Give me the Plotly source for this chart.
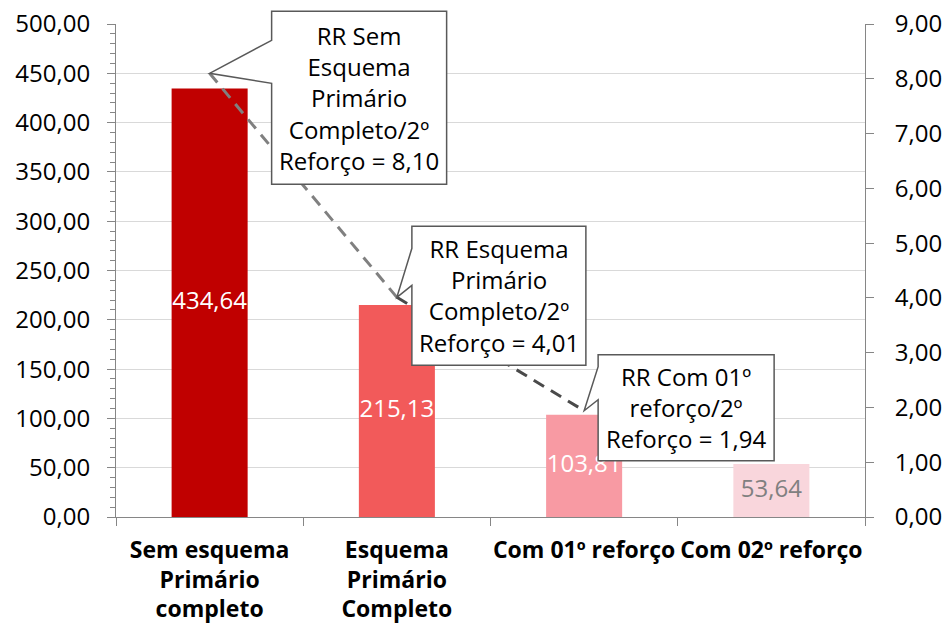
import plotly.graph_objects as go

categories = ["Sem esquema<br>Primário<br>completo", "Esquema<br>Primário<br>Completo",
              "Com 01º reforço", "Com 02º reforço"]
incidence = [434.64, 215.13, 103.81, 53.64]
bar_colors = ["#C00000", "#F25A5A", "#F89AA3", "#F9D6DC"]
label_colors = ["#FFFFFF", "#FFFFFF", "#FFFFFF", "#808080"]
rr_values = [8.10, 4.01, 1.94]
rr_texts = ["RR Sem<br>Esquema<br>Primário<br>Completo/2º<br>Reforço = 8,10",
            "RR Esquema<br>Primário<br>Completo/2º<br>Reforço = 4,01",
            "RR Com 01º<br>reforço/2º<br>Reforço = 1,94"]
Y1_RANGE = [0, 500]
Y2_RANGE = [0, 9]

FONT = "Open Sans"
fig = go.Figure()

fig.add_trace(go.Bar(x=categories, y=incidence, marker=dict(color=bar_colors, line=dict(width=0)),
                     hoverinfo="skip", showlegend=False))
fig.add_trace(go.Scatter(x=categories, y=[v / 2 for v in incidence], mode="text",
                         text=[f"{v:.2f}".replace(".", ",") for v in incidence],
                         textfont=dict(family=FONT, size=24, color=label_colors),
                         textposition="middle center", hoverinfo="skip", showlegend=False))

seg_colors = ["#808080", "#4a4a4a"]
for i in range(len(rr_values) - 1):
    fig.add_trace(go.Scatter(x=categories[i:i + 2], y=rr_values[i:i + 2], yaxis="y2", mode="lines",
                             line=dict(color=seg_colors[i], width=3, dash="12px,8px"),
                             hoverinfo="skip", showlegend=False))

# callout geometry (pixels relative to the data point): left, right, top, bottom, wedge top, wedge bottom
callouts = [(62, 237, 62, -111, 33, -10),
            (15, 189, 71, -68, 49, 12),
            (14, 190, 56, -50, 44, 11)]
shapes = []
annotations = []
n = len(categories)
for i, (l, r, t, b, wt, wb) in enumerate(callouts):
    path = f"M 0,0 L {l},{wt} L {l},{t} L {r},{t} L {r},{b} L {l},{b} L {l},{wb} Z"
    shapes.append(dict(type="path", xref="x domain", yref="y2 domain", xsizemode="pixel", ysizemode="pixel",
                       xanchor=(i + 0.5) / n, yanchor=(rr_values[i] - Y2_RANGE[0]) / (Y2_RANGE[1] - Y2_RANGE[0]),
                       path=path, fillcolor="white", line=dict(color="#595959", width=1.5), layer="above"))
    annotations.append(dict(x=categories[i], y=rr_values[i], xref="x", yref="y2", text=rr_texts[i],
                            showarrow=False, xshift=(l + r) / 2, yshift=(t + b) / 2,
                            font=dict(family=FONT, size=24, color="#000000"), align="center"))

fig.update_layout(
    width=943, height=626,
    margin=dict(l=116, r=78, t=24, b=109, autoexpand=False),
    paper_bgcolor="white", plot_bgcolor="white",
    separators=",.",
    bargap=0.594,
    shapes=shapes, annotations=annotations,
    xaxis=dict(showline=True, linecolor="#868686", linewidth=1, ticks="outside", tickson="boundaries",
               ticklen=8, tickcolor="#868686", showgrid=False, automargin=False, ticklabelstandoff=12,
               tickangle=0, ticklabeloverflow="allow",
               tickfont=dict(family=FONT, size=23, color="#000000", weight="bold")),
    yaxis=dict(range=Y1_RANGE, dtick=50, tickformat=".2f", showline=True, linecolor="#868686",
               ticks="outside", ticklen=8, tickcolor="#868686", gridcolor="#D9D9D9", zeroline=False,
               automargin=False, ticklabelstandoff=12, ticklabeloverflow="allow",
               minor=dict(ticks="outside", ticklen=5, dtick=10, tickcolor="#868686", showgrid=False),
               tickfont=dict(family=FONT, size=24, color="#000000")),
    yaxis2=dict(range=Y2_RANGE, dtick=1, tickformat=".2f", overlaying="y", side="right", showline=True,
                linecolor="#868686", ticks="outside", ticklen=8, tickcolor="#868686", showgrid=False,
                zeroline=False, automargin=False, ticklabeloverflow="allow", ticklabelstandoff=16,
                tickfont=dict(family=FONT, size=24, color="#000000")),
)

# remove the default 8px page margin so the figure fills the window exactly
fig.write_html("out.html", config={"displayModeBar": False},
               post_script="document.body.style.margin='0px';")
